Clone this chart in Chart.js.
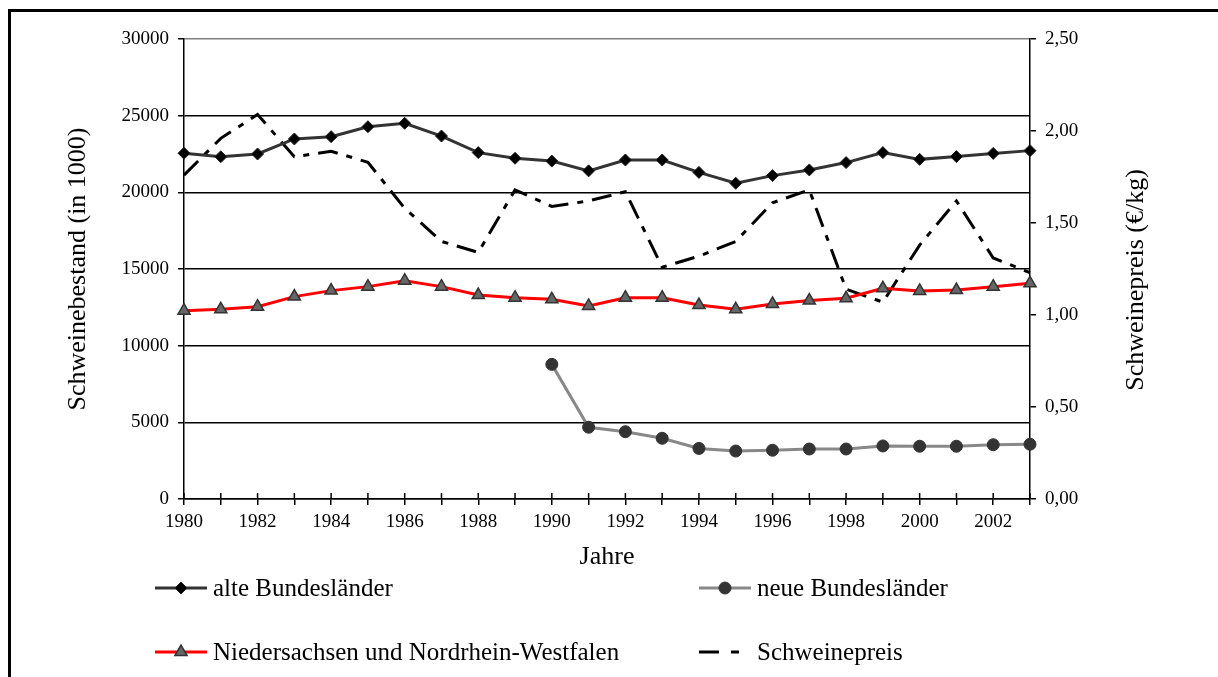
<!DOCTYPE html>
<html>
<head>
<meta charset="utf-8">
<script src="https://cdn.jsdelivr.net/npm/chart.js@4/dist/chart.umd.min.js"></script>
<style>
body { margin: 0; background: #fff; }
#wrap { position: relative; width: 1218px; height: 677px; }
#frame { position: absolute; left: 8px; top: 9px; right: 0; bottom: 0; border-top: 3px solid #000; border-left: 3px solid #000; pointer-events: none; }
</style>
</head>
<body>
<div id="wrap">
<canvas id="mychart" width="1218" height="677"></canvas>
<div id="frame"></div>
</div>
<script>
// data
const jahre = ['1980','1981','1982','1983','1984','1985','1986','1987','1988','1989','1990','1991',
    '1992','1993','1994','1995','1996','1997','1998','1999','2000','2001','2002','2003'];
const alteBL = [22550, 22320, 22500, 23480, 23630, 24280, 24500, 23670, 22590, 22220, 22040, 21400,
    22110, 22110, 21300, 20590, 21090, 21460, 21940, 22590, 22150, 22330, 22540, 22720];
const neueBL = [null, null, null, null, null, null, null, null, null, null, 8780, 4680,
    4390, 3960, 3300, 3130, 3180, 3260, 3260, 3460, 3440, 3440, 3540, 3570];
const niedNRW = [12280, 12370, 12540, 13200, 13590, 13850, 14240, 13850, 13300, 13130, 13020, 12590,
    13130, 13130, 12650, 12370, 12720, 12940, 13090, 13740, 13570, 13630, 13850, 14070];
const preis = [1.76, 1.96, 2.09, 1.86, 1.89, 1.83, 1.58, 1.40, 1.34, 1.68, 1.59, 1.62,
    1.67, 1.26, 1.32, 1.40, 1.61, 1.68, 1.14, 1.07, 1.38, 1.62, 1.31, 1.23];
const bestandTicks = ['0', '5000', '10000', '15000', '20000', '25000', '30000'];
const preisTicks = ['0,00', '0,50', '1,00', '1,50', '2,00', '2,50'];

const serif = 'Liberation Serif, Times New Roman, serif';

// inward half of the x tick marks
const crossTicks = {
    id: 'crossTicks',
    afterDraw(chart) {
        const x = chart.scales.x;
        const ctx = chart.ctx;
        ctx.save();
        ctx.strokeStyle = '#000';
        ctx.lineWidth = 1.5;
        for (let i = 0; i < jahre.length; i++) {
            const px = x.getPixelForTick(i);
            ctx.beginPath();
            ctx.moveTo(px, x.top - 6);
            ctx.lineTo(px, x.top);
            ctx.stroke();
        }
        ctx.restore();
    }
};

// right axis title reads bottom to top in the original
const rightTitle = {
    id: 'rightTitle',
    afterDraw(chart) {
        const ctx = chart.ctx;
        ctx.save();
        ctx.translate(1136, 280);
        ctx.rotate(-Math.PI / 2);
        ctx.fillStyle = '#000';
        ctx.font = '26px ' + serif;
        ctx.textAlign = 'center';
        ctx.textBaseline = 'middle';
        ctx.fillText('Schweinepreis (€/kg)', 0, 0);
        ctx.restore();
    }
};

// legend in two columns like the original
const legendBoxes = {
    id: 'legendBoxes',
    afterDraw(chart) {
        const ctx = chart.ctx;
        const spots = [
            {ds: 0, x: 155, y: 588},
            {ds: 1, x: 699, y: 588},
            {ds: 2, x: 155, y: 652},
            {ds: 3, x: 699, y: 652},
        ];
        ctx.save();
        spots.forEach(s => {
            const d = chart.data.datasets[s.ds];
            ctx.strokeStyle = d.borderColor;
            ctx.lineWidth = d.borderWidth;
            ctx.setLineDash(d.borderDash ? [20, 12, 8, 12] : []);
            ctx.beginPath();
            ctx.moveTo(s.x, s.y);
            ctx.lineTo(s.x + 52, s.y);
            ctx.stroke();
            ctx.setLineDash([]);
            if (d.pointRadius > 0) {
                ctx.fillStyle = d.pointBackgroundColor;
                ctx.strokeStyle = d.pointBorderColor;
                ctx.lineWidth = d.pointBorderWidth || 1;
                Chart.helpers.drawPoint(ctx, {
                    pointStyle: d.pointStyle,
                    radius: d.pointRadius,
                    borderWidth: d.pointBorderWidth || 1,
                    rotation: 0
                }, s.x + 26, s.y);
            }
            ctx.fillStyle = '#000';
            ctx.font = '25px ' + serif;
            ctx.textBaseline = 'middle';
            ctx.fillText(d.label, s.x + 58, s.y + 1);
        });
        ctx.restore();
    }
};

const ctx = document.getElementById('mychart');
var chart = new Chart(ctx, {
    type: 'line',
    data: {
        labels: jahre,
        datasets: [
            {
                label: 'alte Bundesländer',
                data: alteBL,
                yAxisID: 'y',
                borderColor: '#333333',
                borderWidth: 3,
                pointStyle: 'rectRot',
                pointRadius: 6,
                pointBackgroundColor: '#000000',
                pointBorderColor: '#222222',
                pointBorderWidth: 1,
                order: 2,
            },
            {
                label: 'neue Bundesländer',
                data: neueBL,
                yAxisID: 'y',
                borderColor: '#888888',
                borderWidth: 3,
                pointStyle: 'circle',
                pointRadius: 6,
                pointBackgroundColor: '#333333',
                pointBorderColor: '#333333',
                pointBorderWidth: 1,
                order: 3,
            },
            {
                label: 'Niedersachsen und Nordrhein-Westfalen',
                data: niedNRW,
                yAxisID: 'y',
                borderColor: '#ff0000',
                borderWidth: 3,
                pointStyle: 'triangle',
                pointRadius: 7,
                pointBackgroundColor: '#666666',
                pointBorderColor: '#333333',
                pointBorderWidth: 1.5,
                order: 1,
            },
            {
                label: 'Schweinepreis',
                data: preis,
                yAxisID: 'y1',
                borderColor: '#000000',
                borderWidth: 3,
                borderDash: [20, 9, 6, 9],
                pointRadius: 0,
                order: 4,
            },
        ],
    },
    options: {
        responsive: false,
        animation: false,
        devicePixelRatio: 1,
        layout: {
            padding: {
                top: 39,
                left: 10,
                right: 0,
                bottom: 0
            },
        },
        scales: {
            x: {
                offset: false,
                grid: {
                    drawOnChartArea: false,
                    tickLength: 6,
                    color: '#000000',
                    lineWidth: 1.5,
                },
                border: {
                    color: '#000000',
                    width: 1.5,
                },
                ticks: {
                    autoSkip: false,
                    maxRotation: 0,
                    padding: 6,
                    color: '#000000',
                    font: {
                        family: serif,
                        size: 19,
                    },
                    callback: (v, i) => (i % 2 === 0 ? jahre[i] : ''),
                },
                title: {
                    display: true,
                    text: 'Jahre',
                    color: '#000000',
                    font: {
                        family: serif,
                        size: 26,
                    },
                    padding: {
                        top: 0,
                        bottom: 104
                    },
                },
                afterFit: s => { s.height = 178; },
            },
            y: {
                position: 'left',
                min: 0,
                max: 30000,
                afterBuildTicks: s => { s.ticks = bestandTicks.map(t => ({value: Number(t)})); },
                grid: {
                    color: c => (c.tick && c.tick.value === 30000 ? '#808080' : '#000000'),
                    tickColor: '#000000',
                    lineWidth: 1.5,
                    tickLength: 6,
                },
                border: {
                    color: '#000000',
                    width: 1.5,
                },
                ticks: {
                    padding: 9,
                    color: '#000000',
                    font: {
                        family: serif,
                        size: 19,
                    },
                    callback: (v, i) => bestandTicks[i],
                },
                title: {
                    display: true,
                    text: 'Schweinebestand (in 1000)',
                    color: '#000000',
                    font: {
                        family: serif,
                        size: 26,
                    },
                    padding: {
                        top: 53,
                        bottom: 0
                    },
                },
                afterFit: s => { s.width = 174; },
            },
            y1: {
                position: 'right',
                min: 0,
                max: 2.5,
                afterBuildTicks: s => { s.ticks = preisTicks.map((t, i) => ({value: i * 0.5})); },
                grid: {
                    drawOnChartArea: false,
                    color: '#000000',
                    lineWidth: 1.5,
                    tickLength: 6,
                },
                border: {
                    color: '#000000',
                    width: 1.5,
                },
                ticks: {
                    padding: 9,
                    color: '#000000',
                    font: {
                        family: serif,
                        size: 19,
                    },
                    callback: (v, i) => preisTicks[i],
                },
                afterFit: s => { s.width = 188; },
            }
        },
        plugins: {
            legend: {
                display: false,
            },
            tooltip: {
                enabled: false,
            },
        },
    },
    plugins: [crossTicks, rightTitle, legendBoxes]
});
</script>
</body>
</html>
